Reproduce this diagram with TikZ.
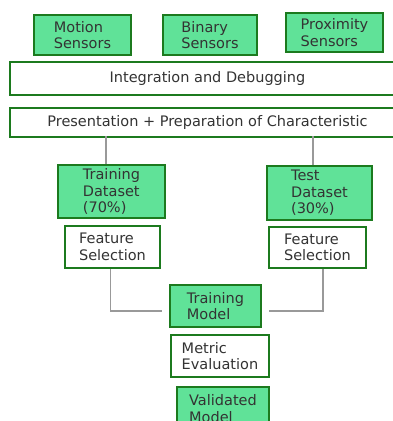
\documentclass[tikz,border=0pt]{standalone}
\usepackage{fontspec}
\setmainfont{DejaVu Sans}
\definecolor{boxgreen}{RGB}{96,226,152}
\definecolor{edgegreen}{RGB}{28,122,30}
\tikzset{
  greenbox/.style={draw=edgegreen,line width=2.4pt,fill=boxgreen,align=left,inner sep=0pt,font=\fontsize{14.5}{16.5}\selectfont,text=black!80},
  whitebox/.style={greenbox,fill=white},
  link/.style={draw=gray!80,line width=1.3pt}
}
\begin{document}
\begin{tikzpicture}[x=1pt,y=-1pt]
\useasboundingbox (0,0) rectangle (393,421);
\clip (0,0) rectangle (393,421);
%[top row]
  \node[greenbox,minimum width=97pt,minimum height=40pt] (motion) at (82.5,35) {Motion\\Sensors};
  \node[greenbox,minimum width=94pt,minimum height=40pt] (binary) at (210,35) {Binary\\Sensors};
  \node[greenbox,minimum width=97pt,minimum height=39pt] (prox) at (334.5,32.5) {Proximity\\Sensors};
  \node[whitebox,minimum width=395pt,minimum height=33pt] (integ) at (207.5,78.5) {Integration and Debugging};
  \node[whitebox,minimum width=395pt,minimum height=29pt] (present) at (207.5,122.5) {Presentation + Preparation of Characteristic};
%[two branches]
  \node[greenbox,minimum width=107pt,minimum height=53pt] (traindata) at (111.5,191.5) {Training\\Dataset\\(70\%)};
  \node[greenbox,minimum width=105pt,minimum height=54pt] (testdata) at (319.5,193) {Test\\Dataset\\(30\%)};
  \node[whitebox,minimum width=95pt,minimum height=42pt] (featL) at (112.5,247) {Feature\\Selection};
  \node[whitebox,minimum width=97pt,minimum height=41pt] (featR) at (317.5,247.5) {Feature\\Selection};
%[model]
  \node[greenbox,minimum width=91pt,minimum height=42pt] (tmodel) at (215.5,306) {Training\\Model};
  \node[whitebox,minimum width=98pt,minimum height=42pt] (metric) at (220,356) {Metric\\Evaluation};
  \node[greenbox,minimum width=92pt,minimum height=43pt] (valid) at (223,408.5) {Validated\\Model};
  \draw[link] (traindata.north -| 106,0) -- ++(0,-28);
  \draw[link] (testdata.north -| 313,0) -- ++(0,-29);
  \draw[link,shorten >=7pt] ([xshift=-2pt]featL.south) |- ([yshift=-5pt]tmodel.west);
  \draw[link,shorten >=7pt] ([xshift=5.5pt]featR.south) |- ([yshift=-5pt]tmodel.east);
\end{tikzpicture}
\end{document}
